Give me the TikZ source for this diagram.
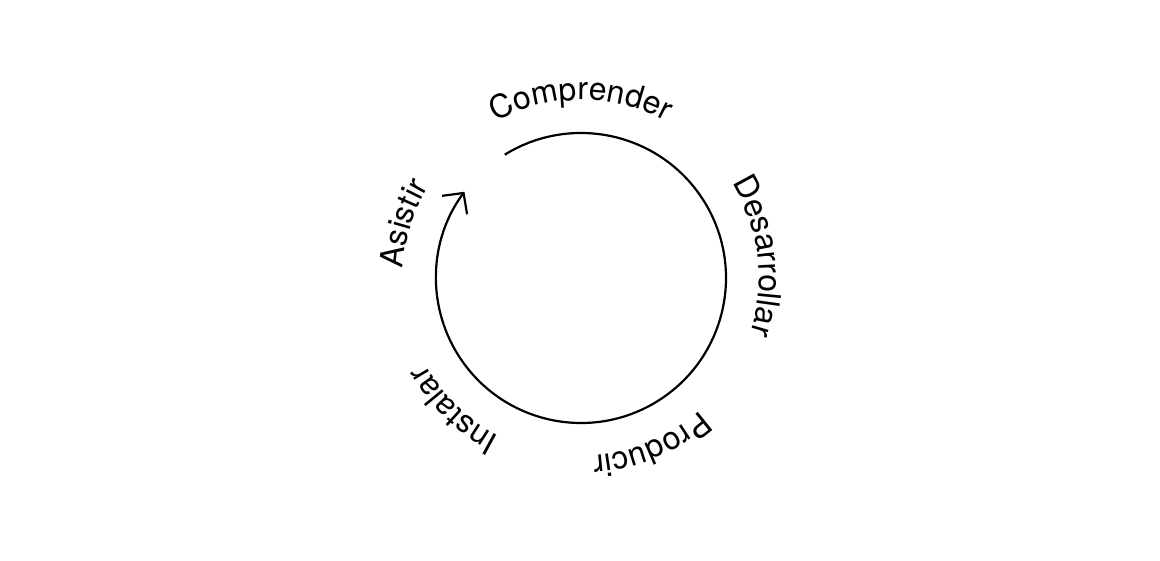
\documentclass[tikz,border=0pt]{standalone}
\usepackage{fontspec}
\newfontfamily\phasefont{TeX Gyre Heros}
\usetikzlibrary{arrows.meta, decorations.text}

\begin{document}
\begin{tikzpicture}[
    x=1pt, y=1pt,
    cycle/.style={line width=2.2pt, -{Straight Barb[length=15pt, width=31pt]}},
    phase/.style={decorate, decoration={text along path, text align=center}}
]
\useasboundingbox (0,0) rectangle (1160,560);
\coordinate (c) at (581,282);

% Cycle
\draw[cycle] (c) ++(121.7:145) arc[start angle=121.7, end angle=-216.5, radius=145];

% Phases
\path[phase, decoration={text={|\phasefont\fontsize{32}{38}\selectfont|Comprender}}]
    (c) ++(135:178) arc[start angle=135, end angle=45, radius=178];
\path[phase, decoration={text={|\phasefont\fontsize{32}{38}\selectfont|Desarrollar}}]
    (c) ++(52:178) arc[start angle=52, end angle=-38, radius=178];
\path[phase, decoration={text={|\phasefont\fontsize{32}{38}\selectfont|Producir}}]
    (c) ++(-22:178) arc[start angle=-22, end angle=-112, radius=178];
\path[phase, decoration={text={|\phasefont\fontsize{32}{38}\selectfont|Instalar}}]
    (c) ++(-89:178) arc[start angle=-89, end angle=-179, radius=178];
\path[phase, decoration={text={|\phasefont\fontsize{32}{38}\selectfont|Asistir}}]
    (c) ++(208:178) arc[start angle=208, end angle=118, radius=178];
\end{tikzpicture}
\end{document}
